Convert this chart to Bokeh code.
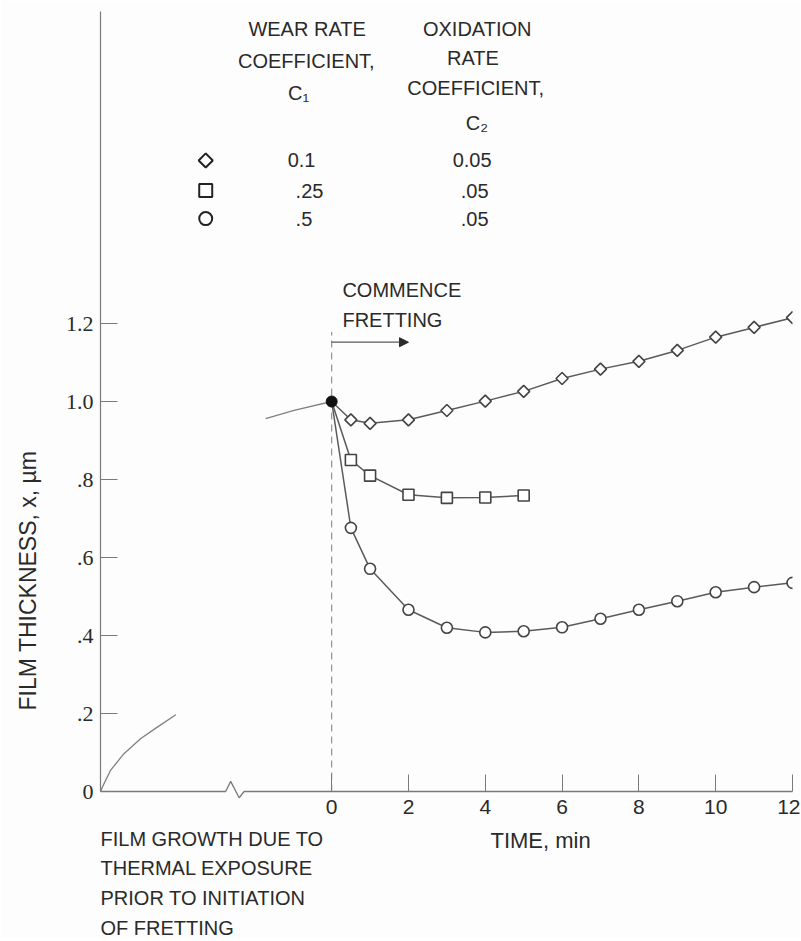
import math
from bokeh.plotting import figure
from bokeh.models import Range1d, FixedTicker, CustomJSTickFormatter, Arrow, NormalHead
from bokeh.core.properties import value
from bokeh.embed import file_html
from bokeh.resources import INLINE

# ---------------- data ----------------
start_time = [0.0]
start_thick = [1.0]

time_diamond = [0.5, 1, 2, 3, 4, 5, 6, 7, 8, 9, 10, 11, 12]
thick_diamond = [0.953, 0.944, 0.953, 0.977, 1.001, 1.026, 1.059, 1.083,
                 1.103, 1.131, 1.165, 1.190, 1.215]

time_square = [0.5, 1, 2, 3, 4, 5]
thick_square = [0.850, 0.810, 0.761, 0.753, 0.754, 0.759]

time_circle = [0.5, 1, 2, 3, 4, 5, 6, 7, 8, 9, 10, 11, 12]
thick_circle = [0.676, 0.571, 0.466, 0.420, 0.408, 0.411, 0.421, 0.443,
                0.466, 0.488, 0.511, 0.524, 0.535]

# schematic curves before fretting (left part of the time axis)
thermal_t = [-6.02, -5.93, -5.76, -5.41, -4.97, -4.54, -4.06]
thermal_x = [0.0, 0.020, 0.054, 0.097, 0.136, 0.165, 0.197]
approach_t = [-1.72, -0.98, 0.0]
approach_x = [0.956, 0.977, 1.0]

x_ticks = [0, 2, 4, 6, 8, 10, 12]
y_ticks = [0, 0.2, 0.4, 0.6, 0.8, 1.0, 1.2]

legend_c1 = ["0.1", ".25", ".5"]
legend_c2 = ["0.05", ".05", ".05"]
legend_markers = ["square", "square", "circle"]
legend_angles = [math.pi / 4, 0.0, 0.0]

# ---------------- style ----------------
BG = "#fdfdfd"
INK = "#2a2a2a"
LINE = "#5a5a5a"
AX = "#7a7a7a"
FONT = "Liberation Sans"
SERIF = "Liberation Serif"
FS = "20px"

X0, X1 = -6.02, 12.0
p = figure(width=800, height=938, x_range=Range1d(X0, X1), y_range=Range1d(0, 2.0),
           output_backend="svg", toolbar_location=None,
           min_border_left=100, min_border_right=8, min_border_top=11,
           min_border_bottom=147,
           background_fill_color=BG, border_fill_color=BG,
           outline_line_color=None)
p.grid.visible = False

# y axis
p.yaxis.ticker = FixedTicker(ticks=y_ticks)
p.yaxis.formatter = CustomJSTickFormatter(code="""
    if (Math.abs(tick) < 1e-9) return "0";
    const s = tick.toFixed(1);
    return tick < 1 ? s.slice(1) : s;
""")
p.yaxis.axis_line_color = AX
p.yaxis.axis_line_width = 1.2
p.yaxis.major_tick_in = 17
p.yaxis.major_tick_out = 0
p.yaxis.major_tick_line_color = AX
p.yaxis.minor_tick_line_color = None
p.yaxis.major_label_standoff = 7
p.yaxis.major_label_text_font = SERIF
p.yaxis.major_label_text_font_size = "22px"
p.yaxis.major_label_text_color = INK

# x axis (ticks and labels from Bokeh, line drawn with a break)
p.xaxis.ticker = FixedTicker(ticks=x_ticks)
p.xaxis.axis_line_color = None
p.xaxis.major_tick_in = 17
p.xaxis.major_tick_out = 0
p.xaxis.major_tick_line_color = AX
p.xaxis.minor_tick_line_color = None
p.xaxis.major_label_standoff = 8
p.xaxis.major_label_text_font = FONT
p.xaxis.major_label_text_font_size = "21px"
p.xaxis.major_label_text_color = INK

brk_x = [X0, -2.76, -2.63, -2.41, -2.28, X1]
brk_y = [0, 0, 0.026, -0.016, 0, 0]
p.line(brk_x, brk_y, line_color=AX, line_width=1.3, level="overlay")

# commence fretting marker
p.line([0, 0], [0, 1.178], line_color="#888888", line_width=1.1, line_dash="7 5")
p.add_layout(Arrow(end=NormalHead(size=9, fill_color=INK, line_color=INK),
                   x_start=0, y_start=1.152, x_end=2.0, y_end=1.152,
                   line_color=LINE, line_width=1.3))

# schematic pre-fretting curves
p.line(thermal_t, thermal_x, line_color="#808080", line_width=1.3, level="overlay")
p.line(approach_t, approach_x, line_color="#808080", line_width=1.3)

# data curves
p.line(start_time + time_diamond, start_thick + thick_diamond, line_color=LINE, line_width=1.5)
p.line(start_time + time_square, start_thick + thick_square, line_color=LINE, line_width=1.5)
p.line(start_time + time_circle, start_thick + thick_circle, line_color=LINE, line_width=1.5)

p.scatter(time_diamond, thick_diamond, marker="square", angle=math.pi / 4, size=8.5,
          fill_color="white", line_color="#444444", line_width=1.6)
p.scatter(time_square, thick_square, marker="square", size=11,
          fill_color="white", line_color="#444444", line_width=1.6)
p.scatter(time_circle, thick_circle, marker="circle", size=11,
          fill_color="white", line_color="#444444", line_width=1.6)
p.scatter(start_time, start_thick, marker="circle", size=11, fill_color="#111111",
          line_color="#111111")


# ---------------- texts ----------------
def txt(x, y, t, align="center", size=FS, font=FONT, angle=0.0):
    p.text(x=[x], y=[y], text=[t], text_font=value(font), text_font_size=value(size),
           text_align=align, text_baseline="middle", text_color=INK, angle=angle,
           level="overlay")


txt(-0.64, 1.956, "WEAR RATE")
txt(-0.66, 1.874, "COEFFICIENT,")
txt(-0.86, 1.792, "C\u2081")
txt(3.79, 1.956, "OXIDATION")
txt(3.68, 1.882, "RATE")
txt(3.75, 1.805, "COEFFICIENT,")
txt(3.78, 1.713, "C\u2082")

rows_y = [1.618, 1.541, 1.469]
p.scatter([-3.28] * 3, rows_y, marker=legend_markers, angle=legend_angles,
          size=[10, 13, 13], fill_color=BG, line_color="#222222", line_width=2)
c1_x = [-1.146, -0.94, -0.94]
c2_x = [3.15, 3.36, 3.36]
p.text(x=c1_x, y=rows_y, text=legend_c1, text_font=value(FONT), text_font_size=value(FS),
       text_align="left", text_baseline="middle", text_color=INK)
p.text(x=c2_x, y=rows_y, text=legend_c2, text_font=value(FONT), text_font_size=value(FS),
       text_align="left", text_baseline="middle", text_color=INK)

txt(0.28, 1.285, "COMMENCE", align="left")
txt(0.28, 1.208, "FRETTING", align="left")

# texts outside the frame (overlay level is not clipped)
txt(5.44, -0.126, "TIME, min", size="22px")
txt(X0, -0.121, "FILM GROWTH DUE TO", align="left")
txt(X0, -0.197, "THERMAL EXPOSURE", align="left")
txt(X0, -0.272, "PRIOR TO INITIATION", align="left")
txt(X0, -0.350, "OF FRETTING", align="left")
txt(-7.92, 0.541, "FILM THICKNESS, x, \u00b5m", size="23px", angle=math.pi / 2)

open("out.html", "w").write(file_html(p, INLINE))
